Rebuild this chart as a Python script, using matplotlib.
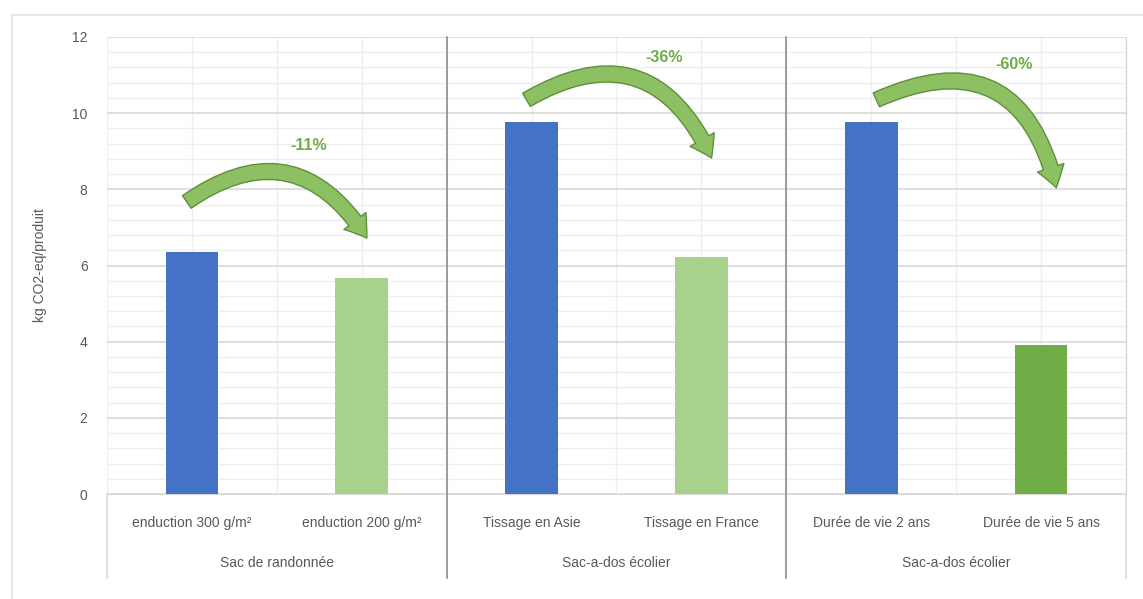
import matplotlib.pyplot as plt
from matplotlib.patches import FancyArrowPatch
from matplotlib.lines import Line2D
import numpy as np

# data
categories = ["enduction 300 g/m²", "enduction 200 g/m²",
              "Tissage en Asie", "Tissage en France",
              "Durée de vie 2 ans", "Durée de vie 5 ans"]
values = [6.35, 5.68, 9.78, 6.23, 9.78, 3.9]
bar_colors = ["#4472C4", "#A9D18E", "#4472C4", "#A9D18E", "#4472C4", "#70AD47"]
groups = ["Sac de randonnée", "Sac-a-dos écolier", "Sac-a-dos écolier"]
reductions = ["-11%", "-36%", "-60%"]

plt.rcParams['font.family'] = ['Liberation Sans', 'DejaVu Sans']
txt_col = "#595959"

fig = plt.figure(figsize=(11.43, 5.99), dpi=100)
ax = fig.add_axes([107/1143, 105/599, 1019/1143, 457/599])

x = np.arange(len(categories))
ax.bar(x, values, width=0.31, color=bar_colors, zorder=3)

ax.set_xlim(-0.5, 5.5)
ax.set_ylim(0, 12)
ax.set_yticks(np.arange(0, 13, 2))
ax.set_yticks(np.arange(0, 12.01, 0.4), minor=True)
ax.set_xticks(np.arange(-0.5, 5.6, 0.5), minor=True)
ax.grid(which='major', axis='y', color='#d9d9d9', lw=1.2, zorder=0)
ax.grid(which='minor', axis='y', color='#efefef', lw=1.0, zorder=0)
ax.grid(which='minor', axis='x', color='#efefef', lw=1.0, zorder=0)
ax.tick_params(axis='y', which='both', length=0, labelsize=10, labelcolor=txt_col, pad=14)
ax.tick_params(axis='x', which='both', length=0)
ax.set_xticks([])
for s in ['top', 'left']:
    ax.spines[s].set_visible(False)
ax.spines['bottom'].set_color('#d9d9d9')
ax.spines['right'].set_color('#d0d0d0')
ax.set_ylabel("kg CO2-eq/produit", fontsize=10, color=txt_col, labelpad=18)

# category labels and group labels under the axis
for i, c in enumerate(categories):
    ax.text(i, -0.75, c, ha='center', va='center', fontsize=10, color=txt_col)
for g, name in enumerate(groups):
    ax.text(2 * g + 0.5, -1.8, name, ha='center', va='center', fontsize=10, color=txt_col)

# group separators / outer lines of the category axis
for xs, c in zip([-0.5, 1.5, 3.5, 5.5], ['#d9d9d9', '#8c8c8c', '#8c8c8c', '#d9d9d9']):
    top = 12 if xs in (1.5, 3.5) else 0
    ax.add_line(Line2D([xs, xs], [top, -2.2], color=c, lw=1.2, clip_on=False, zorder=4))

# curved arrows with reduction labels
arrows = [((-0.03, 7.67), (1.03, 6.72), -0.52),
          ((1.97, 10.35), (3.06, 8.82), -0.55),
          ((4.03, 10.35), (5.09, 8.04), -0.6)]
text_pos = [(0.69, 9.16), (2.78, 11.45), (4.84, 11.27)]
for (p0, p1, rad), lab, tp in zip(arrows, reductions, text_pos):
    arr = FancyArrowPatch(p0, p1, connectionstyle=f"arc3,rad={rad}",
                          arrowstyle="simple,head_width=20,head_length=15,tail_width=11",
                          mutation_scale=1, facecolor='#8CC063', edgecolor='#5E8F3A',
                          lw=1, shrinkA=0, shrinkB=0, zorder=5)
    ax.add_patch(arr)
    ax.text(tp[0], tp[1], lab, ha='center', va='center', fontsize=11.5,
            fontweight='bold', color='#70AD47', zorder=6)

# light frame of the chart area
fig.add_artist(Line2D([12/1143, 12/1143], [0, 584/599], color='#e6e6e6', lw=1.5))
fig.add_artist(Line2D([12/1143, 1], [584/599, 584/599], color='#e6e6e6', lw=1.5))

fig.savefig("out.png", dpi=100)
